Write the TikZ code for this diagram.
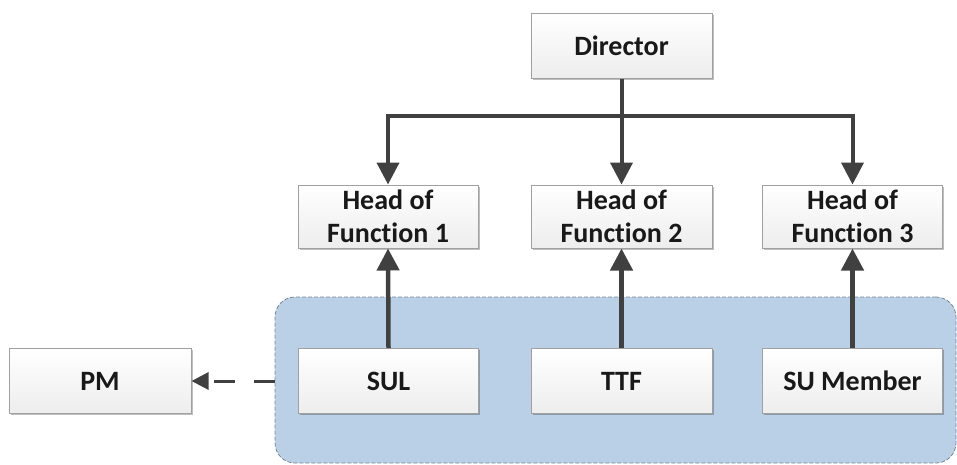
\documentclass[tikz,border=0pt]{standalone}
\usepackage{fontspec}
\setmainfont{Carlito}[Ligatures=NoCommon]
\usetikzlibrary{arrows.meta,shadows}
\definecolor{linegray}{RGB}{64,64,64}
\definecolor{boxborder}{RGB}{160,160,160}
\definecolor{groupblue}{RGB}{186,208,230}
\definecolor{groupborder}{RGB}{120,135,150}
\tikzset{
  box/.style={draw=boxborder, line width=1pt, top color=white, bottom color=black!7,
    minimum width=180pt, minimum height=65pt, inner sep=0pt, align=center,
    font=\fontsize{28}{32.5}\selectfont\bfseries, text=black!90,
    drop shadow={shadow xshift=1.5pt, shadow yshift=-1.5pt, opacity=0.25, fill=black}},
  group/.style={draw=groupborder, line width=0.8pt, dash pattern=on 4pt off 2pt,
    fill=groupblue, rounded corners=20pt, minimum width=681pt, minimum height=166pt,
    inner sep=0pt},
  link/.style={draw=linegray, line width=4pt, line join=miter,
    -{Triangle[width=22pt,length=22pt]}},
  uplink/.style={draw=linegray, line width=4.5pt,
    -{Triangle[width=22pt,length=22pt]}},
  dashlink/.style={draw=linegray, line width=3pt, dash pattern=on 21pt off 19pt,
    -{Triangle[width=17pt,length=17pt]}},
}
\begin{document}
\begin{tikzpicture}[x=1pt,y=-1pt]
  \useasboundingbox (0,0) rectangle (957,464);

  % shaded group behind the bottom row
  \node[group] (grp) at (615.5,380) {};

  % top of the hierarchy
  \node[box, minimum width=181pt] (dir) at (621.5,45.5) {Director};

  % heads of function
  \node[box, minimum height=63pt] (h1) at (388,216.5) {Head of\\Function 1};
  \node[box, minimum height=63pt, minimum width=181pt] (h2) at (621.5,216.5) {Head of\\Function 2};
  \node[box, minimum height=63pt] (h3) at (852.5,216.5) {Head of\\Function 3};

  % bottom row
  \node[box, minimum width=182pt] (pm) at (100,381) {PM};
  \node[box] (sul) at (388.5,381) {SUL};
  \node[box, minimum width=181pt] (ttf) at (621.5,381) {TTF};
  \node[box] (sum) at (852.5,381) {SU Member};

  % reporting lines from the director
  \coordinate (bus) at (621.5,116);
  \draw[link] (dir.south) -- (h2.north);
  \draw[link] (bus) -| (h1.north);
  \draw[link] (bus) -| (h3.north);

  % members report upwards
  \draw[uplink] (sul.north) -- (h1.south);
  \draw[uplink] (ttf.north) -- (h2.south);
  \draw[uplink] (sum.north) -- (h3.south);

  % group link to the PM
  \draw[dashlink] (grp.west |- pm.east) -- (pm.east);
\end{tikzpicture}
\end{document}
